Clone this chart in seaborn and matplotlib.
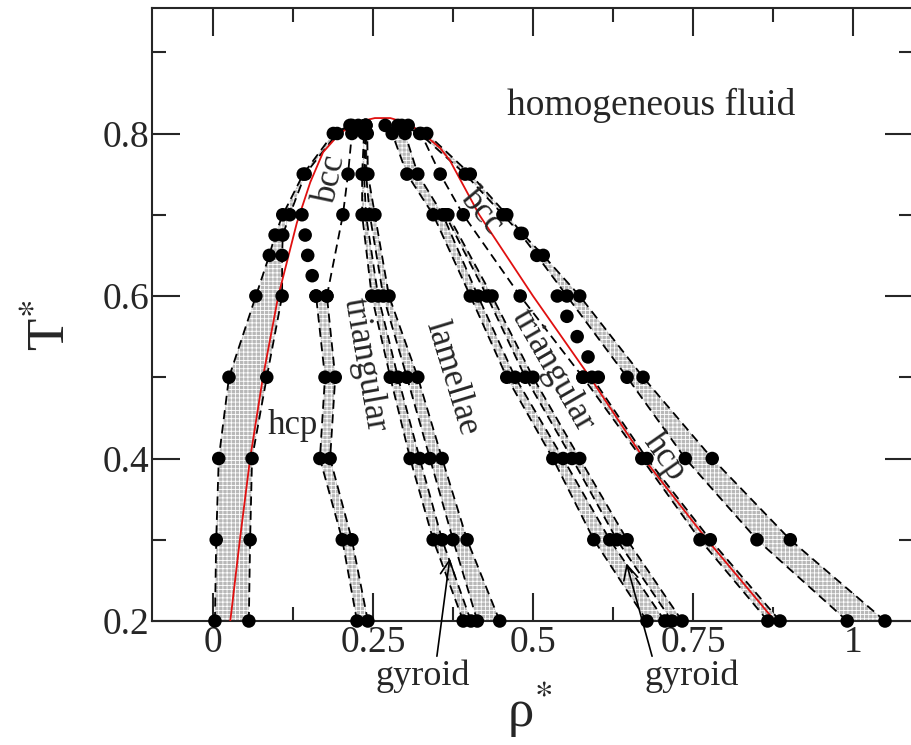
import numpy as np
import pandas as pd
import matplotlib
matplotlib.use("Agg")
import matplotlib.pyplot as plt
import seaborn as sns

# ---------------- data (rho*, T*) ----------------
T_band1 = [0.2, 0.3, 0.4, 0.5, 0.6, 0.65, 0.675, 0.7, 0.75, 0.8, 0.81]
rho_band1_lo = [0.003, 0.005, 0.009, 0.025, 0.067, 0.088, 0.097, 0.109, 0.141, 0.188, 0.214]
rho_band1_hi = [0.056, 0.058, 0.061, 0.084, 0.108, 0.108, 0.109, 0.120, 0.144, 0.194, 0.217]

T_band2 = [0.2, 0.3, 0.4, 0.5, 0.6]
rho_band2_lo = [0.225, 0.202, 0.167, 0.175, 0.161]
rho_band2_hi = [0.242, 0.217, 0.183, 0.191, 0.178]

T_bcc_tri_L = [0.6, 0.7, 0.75, 0.8, 0.81]
rho_bcc_tri_L = [0.178, 0.203, 0.211, 0.217, 0.227]

T_hcp_bcc_L = [0.6, 0.625, 0.65, 0.675, 0.7]
rho_hcp_bcc_L = [0.161, 0.155, 0.148, 0.144, 0.139]

T_band3 = [0.2, 0.3, 0.4, 0.5, 0.6, 0.7, 0.75, 0.8, 0.81]
rho_band3_lo = [0.391, 0.344, 0.308, 0.277, 0.248, 0.233, 0.233, 0.236, 0.238]
rho_band3_hi = [0.403, 0.358, 0.323, 0.289, 0.258, 0.239, 0.236, 0.238, 0.238]

T_band4 = [0.2, 0.3, 0.4, 0.5, 0.6, 0.7, 0.75, 0.8, 0.81]
rho_band4_lo = [0.413, 0.375, 0.339, 0.303, 0.266, 0.245, 0.239, 0.239, 0.239]
rho_band4_hi = [0.448, 0.397, 0.358, 0.320, 0.275, 0.253, 0.242, 0.241, 0.239]

T_band5 = [0.2, 0.3, 0.4, 0.5, 0.6, 0.7, 0.75, 0.8, 0.81]
rho_band5_lo = [0.678, 0.595, 0.531, 0.459, 0.402, 0.344, 0.303, 0.280, 0.269]
rho_band5_hi = [0.706, 0.620, 0.547, 0.472, 0.414, 0.359, 0.320, 0.300, 0.289]

T_band6 = [0.2, 0.3, 0.4, 0.5, 0.6, 0.7]
rho_band6_lo = [0.717, 0.631, 0.561, 0.488, 0.428, 0.363]
rho_band6_hi = [0.733, 0.647, 0.573, 0.500, 0.436, 0.367]

T_band7 = [0.2, 0.3, 0.4, 0.5]
rho_band7_lo = [0.867, 0.761, 0.670, 0.578]
rho_band7_hi = [0.886, 0.777, 0.678, 0.592]

T_tri_bcc_R = [0.5, 0.6, 0.7, 0.75, 0.8]
rho_tri_bcc_R = [0.578, 0.480, 0.391, 0.355, 0.325]

T_hcp_bcc_R = [0.5, 0.525, 0.55, 0.575, 0.6]
rho_hcp_bcc_R = [0.602, 0.586, 0.569, 0.553, 0.538]

T_band8 = [0.2, 0.3, 0.4, 0.5, 0.6, 0.65, 0.677, 0.7, 0.75, 0.8, 0.81]
rho_band8_lo = [0.991, 0.850, 0.738, 0.647, 0.553, 0.506, 0.480, 0.453, 0.394, 0.323, 0.295]
rho_band8_hi = [1.050, 0.902, 0.780, 0.672, 0.573, 0.516, 0.483, 0.459, 0.402, 0.334, 0.305]

# lambda-line (red)
rho_lambda = [0.027, 0.042, 0.058, 0.078, 0.102, 0.131, 0.152, 0.172, 0.198, 0.225, 0.253,
              0.277, 0.303, 0.328, 0.355, 0.370, 0.416, 0.500, 0.589, 0.673, 0.772, 0.878]
T_lambda = [0.2, 0.3, 0.4, 0.5, 0.6, 0.69, 0.74, 0.777, 0.80, 0.814, 0.819,
            0.819, 0.813, 0.80, 0.782, 0.767, 0.7, 0.6, 0.5, 0.4, 0.3, 0.2]

x_ticks = [0, 0.25, 0.5, 0.75, 1]
x_ticklabels = ["0", "0.25", "0.5", "0.75", "1"]
y_ticks = [0.2, 0.4, 0.6, 0.8]
y_ticklabels = ["0.2", "0.4", "0.6", "0.8"]

bands = [
    (T_band1, rho_band1_lo, rho_band1_hi),
    (T_band2, rho_band2_lo, rho_band2_hi),
    (T_band3, rho_band3_lo, rho_band3_hi),
    (T_band4, rho_band4_lo, rho_band4_hi),
    (T_band5, rho_band5_lo, rho_band5_hi),
    (T_band6, rho_band6_lo, rho_band6_hi),
    (T_band7, rho_band7_lo, rho_band7_hi),
    (T_band8, rho_band8_lo, rho_band8_hi),
]
dashed_lines = []
for T, lo, hi in bands:
    dashed_lines.append((T, lo))
    dashed_lines.append((T, hi))
dashed_lines.append((T_bcc_tri_L, rho_bcc_tri_L))
dashed_lines.append((T_tri_bcc_R, rho_tri_bcc_R))
dotted_only = [(T_hcp_bcc_L, rho_hcp_bcc_L), (T_hcp_bcc_R, rho_hcp_bcc_R)]

rows = []
for i, (T, r) in enumerate(dashed_lines):
    for a, b in zip(r, T):
        rows.append({"rho": a, "T": b, "line": i})
df_lines = pd.DataFrame(rows)
pts = df_lines.copy()
for T, r in dotted_only:
    pts = pd.concat([pts, pd.DataFrame({"rho": r, "T": T, "line": -1})], ignore_index=True)
df_lambda = pd.DataFrame({"rho": rho_lambda, "T": T_lambda, "line": 0})

# ---------------- style ----------------
sns.set_style("ticks")
plt.rcParams["font.family"] = ["Liberation Serif", "DejaVu Serif"]
plt.rcParams["mathtext.fontset"] = "stix"
plt.rcParams["hatch.linewidth"] = 0.6

W, H = 912, 745
fig = plt.figure(figsize=(W / 100, H / 100), dpi=100)
x_left, x_right = 152, 913
y_bot, y_top = 621, 8
ax = fig.add_axes([x_left / W, (H - y_bot) / H, (x_right - x_left) / W, (y_bot - y_top) / H])
ax.set_xlim((x_left - 213) / 640, (x_right - 213) / 640)
ax.set_ylim(0.2, 0.2 + (y_bot - y_top) / 812.5)

for T, lo, hi in bands:
    ax.fill_betweenx(T, lo, hi, facecolor="#b8b8b8", edgecolor="white",
                     hatch="++++", linewidth=0, zorder=1)

sns.lineplot(data=df_lines, x="rho", y="T", units="line", estimator=None, sort=False,
             color="black", linewidth=1.3, linestyle=(0, (5, 3)), ax=ax, zorder=2, legend=False)
sns.lineplot(data=df_lambda, x="rho", y="T", estimator=None, sort=False,
             color="#e01010", linewidth=1.3, ax=ax, zorder=3, legend=False)
sns.scatterplot(data=pts, x="rho", y="T", color="black", s=95, edgecolor="none",
                ax=ax, zorder=4, legend=False, clip_on=False)

ax.set_xticks(x_ticks)
ax.set_xticklabels(x_ticklabels)
ax.set_yticks(y_ticks)
ax.set_yticklabels(y_ticklabels)
ax.set_xticks([0.125, 0.375, 0.625, 0.875], minor=True)
ax.set_yticks([0.3, 0.5, 0.7, 0.9], minor=True)
ax.tick_params(which="both", direction="in", top=True, right=True, width=1.5, labelsize=27)
ax.tick_params(which="major", length=20)
ax.tick_params(which="minor", length=10)
ax.tick_params(axis="x", which="major", pad=3)
ax.tick_params(axis="y", which="major", pad=2)
for s in ax.spines.values():
    s.set_linewidth(1.5)

ax.set_xlabel("ρ$^{*}$", fontsize=38)
ax.set_ylabel("T$^{*}$", fontsize=38)
ax.xaxis.set_label_coords((530 - x_left) / (x_right - x_left), -(680 - y_bot) / (y_bot - y_top))
ax.yaxis.set_label_coords(-(152 - 76) / (x_right - x_left), (y_bot - 325) / (y_bot - y_top))

fs = 25
ax.text(0.684, 0.835, "homogeneous fluid", fontsize=27, ha="center", va="center")
ax.text(0.125, 0.441, "hcp", fontsize=fs, ha="center", va="center")
ax.text(0.184, 0.745, "bcc", fontsize=fs, ha="center", va="center", rotation=78)
ax.text(0.2375, 0.515, "triangular", fontsize=fs, ha="center", va="center", rotation=-80)
ax.text(0.373, 0.499, "lamellae", fontsize=fs, ha="center", va="center", rotation=-73)
ax.text(0.420, 0.703, "bcc", fontsize=fs, ha="center", va="center", rotation=-50)
ax.text(0.531, 0.508, "triangular", fontsize=fs, ha="center", va="center", rotation=-60)
ax.text(0.706, 0.402, "hcp", fontsize=fs, ha="center", va="center", rotation=-55)

arrow = dict(arrowstyle="->", color="black", lw=1.2, shrinkA=0, shrinkB=0)
ax.annotate("gyroid", xy=(0.37, 0.277), xytext=(0.327, 0.132), fontsize=26,
            ha="center", va="center", annotation_clip=False,
            arrowprops=dict(arrow, relpos=(0.65, 1.0)))
ax.annotate("gyroid", xy=(0.646, 0.271), xytext=(0.748, 0.132), fontsize=26,
            ha="center", va="center", annotation_clip=False,
            arrowprops=dict(arrow, relpos=(0.09, 1.0)))

fig.savefig("out.png", dpi=100)
